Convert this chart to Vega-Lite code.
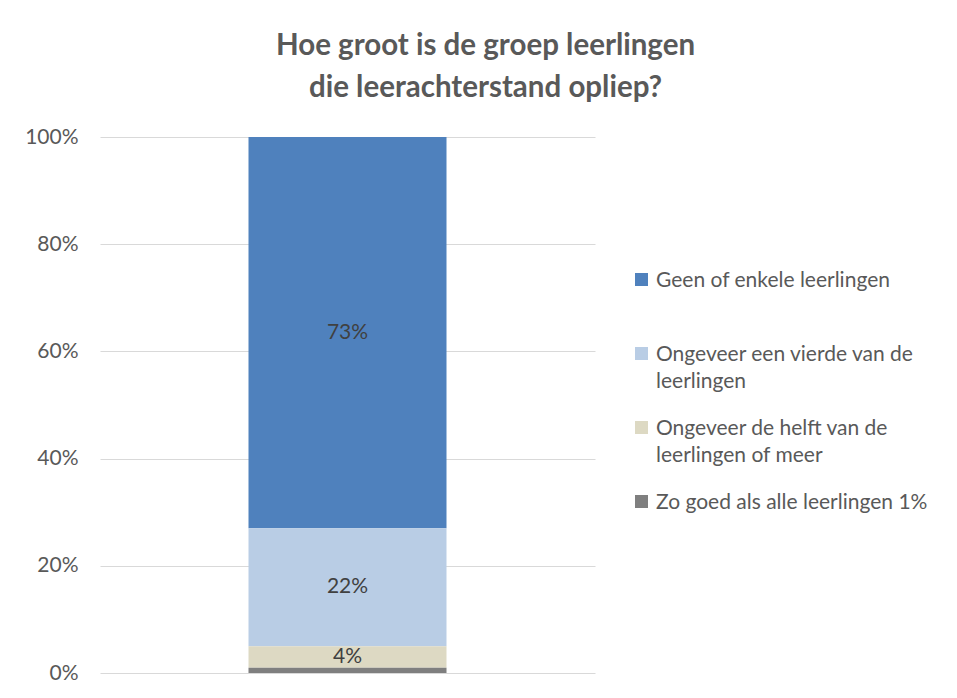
{
  "$schema": "https://vega.github.io/schema/vega-lite/v6.json",
  "width": 495,
  "height": 536,
  "autosize": {"type": "none"},
  "padding": {"left": 100, "top": 137, "right": 362, "bottom": 25},
  "background": "white",
  "title": {
    "text": ["Hoe groot is de groep leerlingen", "die leerachterstand opliep?"],
    "font": "Lato",
    "fontSize": 29.5,
    "fontWeight": "bold",
    "color": "#595959",
    "anchor": "middle",
    "dx": 138,
    "lineHeight": 42,
    "offset": 23
  },
  "data": {
    "values": [
      {"cat": "Leerachterstand", "groep": "Geen of enkele leerlingen", "value": 0.73, "ord": 4},
      {"cat": "Leerachterstand", "groep": "Ongeveer een vierde van de leerlingen", "value": 0.22, "ord": 3},
      {"cat": "Leerachterstand", "groep": "Ongeveer de helft van de leerlingen of meer", "value": 0.04, "ord": 2},
      {"cat": "Leerachterstand", "groep": "Zo goed als alle leerlingen 1%", "value": 0.01, "ord": 1}
    ]
  },
  "transform": [
    {"stack": "value", "groupby": ["cat"], "sort": [{"field": "ord", "order": "ascending"}], "as": ["y0", "y1"]},
    {"calculate": "(datum.y0 + datum.y1) / 2", "as": "ymid"}
  ],
  "encoding": {
    "x": {"field": "cat", "type": "nominal", "axis": null, "scale": {"paddingInner": 0, "paddingOuter": 0.75}}
  },
  "layer": [
    {
      "mark": {"type": "bar"},
      "encoding": {
        "y": {
          "field": "y0", "type": "quantitative",
          "scale": {"domain": [0, 1], "nice": false},
          "axis": {
            "values": [0, 0.2, 0.4, 0.6, 0.8, 1],
            "format": ".0%",
            "title": null,
            "domain": false,
            "ticks": false,
            "labelPadding": 22,
            "labelFont": "Lato",
            "labelFontSize": 21,
            "labelColor": "#595959",
            "gridColor": "#D9D9D9",
            "gridWidth": 1
          }
        },
        "y2": {"field": "y1"},
        "color": {
          "field": "groep", "type": "nominal",
          "scale": {
            "domain": ["Geen of enkele leerlingen", "Ongeveer een vierde van de leerlingen", "Ongeveer de helft van de leerlingen of meer", "Zo goed als alle leerlingen 1%"],
            "range": ["#4F81BD", "#B9CDE5", "#DDD9C3", "#7F7F7F"]
          },
          "legend": {
            "title": null,
            "orient": "none",
            "legendX": 531,
            "legendY": 132,
            "symbolType": "square",
            "symbolSize": 169,
            "symbolStrokeWidth": 0,
            "labelFont": "Lato",
            "labelFontSize": 21,
            "labelLineHeight": 27,
            "labelColor": "#595959",
            "labelOffset": 4,
            "labelLimit": 400,
            "labelBaseline": "top",
            "gridAlign": "all",
            "rowPadding": 25,
            "encode": {"labels": {"update": {"dy": {"value": -10}, "lineHeight": {"value": 27}}}},
            "labelExpr": "datum.label === 'Ongeveer een vierde van de leerlingen' ? ['Ongeveer een vierde van de', 'leerlingen'] : datum.label === 'Ongeveer de helft van de leerlingen of meer' ? ['Ongeveer de helft van de', 'leerlingen of meer'] : datum.label"
          }
        }
      }
    },
    {
      "transform": [{"filter": "datum.value > 0.015"}],
      "mark": {"type": "text", "font": "Lato", "fontSize": 21, "color": "#404040"},
      "encoding": {
        "y": {"field": "ymid", "type": "quantitative"},
        "text": {"field": "value", "type": "quantitative", "format": ".0%"}
      }
    }
  ],
  "config": {"view": {"stroke": null}}
}
